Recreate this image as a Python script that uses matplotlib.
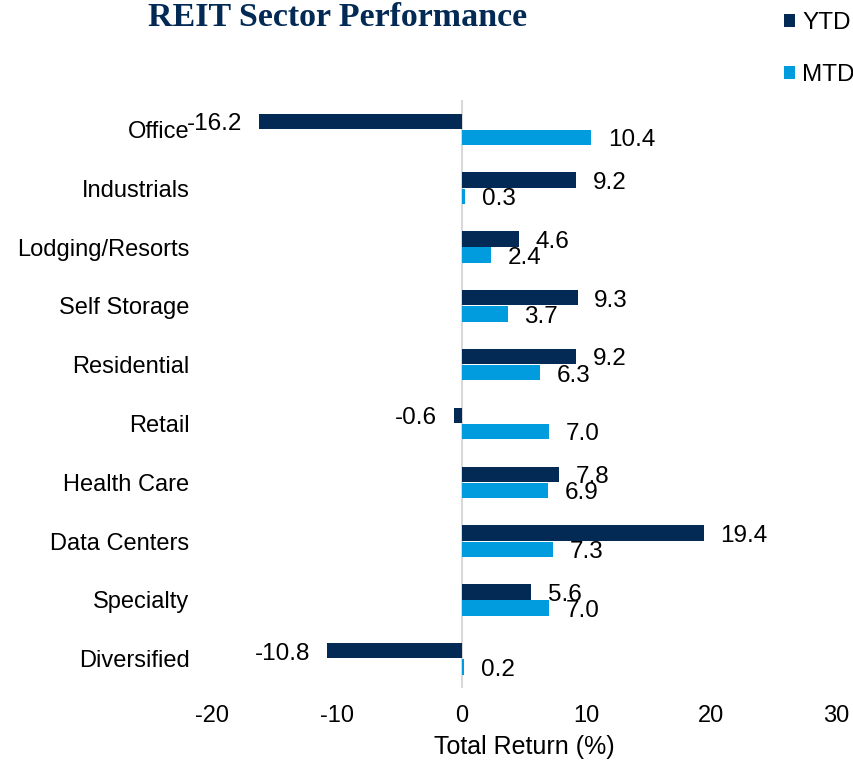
import matplotlib.pyplot as plt
import numpy as np

# Sector returns (%)
sectors = ["Office", "Industrials", "Lodging/Resorts", "Self Storage", "Residential",
           "Retail", "Health Care", "Data Centers", "Specialty", "Diversified"]
ytd = [-16.2, 9.2, 4.6, 9.3, 9.2, -0.6, 7.8, 19.4, 5.6, -10.8]
mtd = [10.4, 0.3, 2.4, 3.7, 6.3, 7.0, 6.9, 7.3, 7.0, 0.2]
x_ticks = [-20, -10, 0, 10, 20, 30]

NAVY = "#032a55"
BLUE = "#009cde"
ZERO = "#d9d9d9"

plt.rcParams["font.family"] = ["Liberation Sans", "DejaVu Sans"]

fig = plt.figure(figsize=(8.54, 7.63), dpi=100)
ax = fig.add_axes([0.248, 0.098, 0.731, 0.771])

y = np.arange(len(sectors))
h = 0.26
off = 0.137

ax.barh(y - off, ytd, height=h, color=NAVY, label="YTD", zorder=3)
ax.barh(y + off, mtd, height=h, color=BLUE, label="MTD", zorder=3)
ax.axvline(0, color=ZERO, linewidth=1.5, zorder=2)

# value labels just beyond the bar ends
for yy, vals in ((y - off, ytd), (y + off, mtd)):
    for pos, v in zip(yy, vals):
        ax.annotate(f"{v:.1f}", (v, pos), xytext=(12 if v >= 0 else -12, -2),
                    textcoords="offset points", ha="left" if v >= 0 else "right",
                    va="center", fontsize=17.5, color="black", zorder=4)

ax.set_xlim(-20, 30)
ax.set_ylim(len(sectors) - 0.5, -0.5)
ax.set_xticks(x_ticks)
ax.set_xticklabels([str(t) for t in x_ticks])
ax.set_yticks(y)
ax.set_yticklabels(sectors)
ax.tick_params(axis="both", length=0, labelsize=17)
ax.tick_params(axis="y", pad=16)
ax.tick_params(axis="x", pad=12)
for spine in ax.spines.values():
    spine.set_visible(False)

ax.set_xlabel("Total Return (%)", fontsize=18, labelpad=6)

fig.text(0.173, 0.997, "REIT Sector Performance", fontsize=24.5, fontweight="bold",
         family="Liberation Serif", color=NAVY, va="top", ha="left")

fig.legend(loc="upper left", bbox_to_anchor=(0.918, 0.984), frameon=False,
           fontsize=17.5, handlelength=0.45, handleheight=0.45, handletextpad=0.3,
           labelspacing=1.22, borderpad=0, borderaxespad=0)

fig.savefig("out.png", dpi=100)
